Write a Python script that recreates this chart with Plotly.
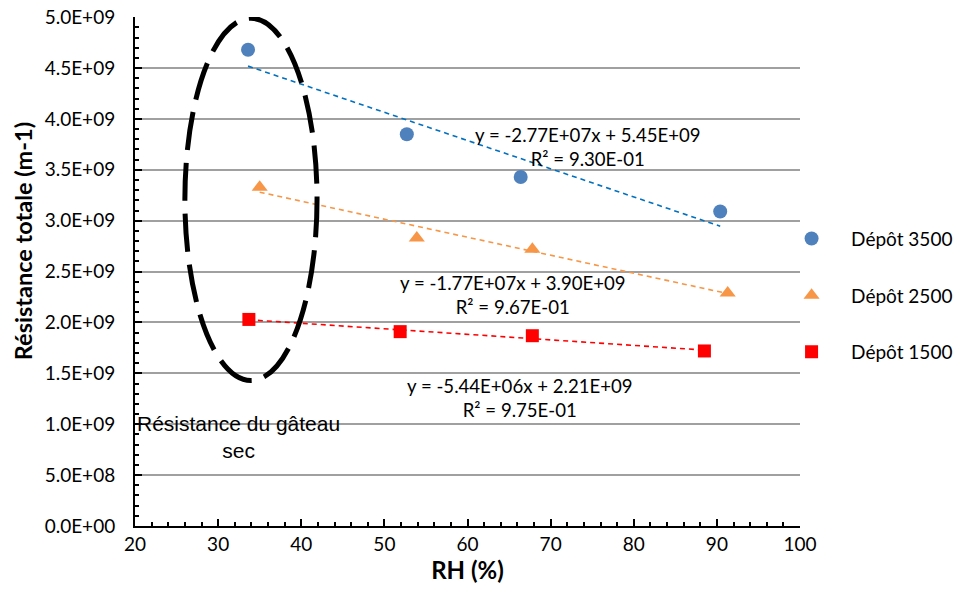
import plotly.graph_objects as go

rh_3500 = [33.6, 52.7, 66.4, 90.4]
res_3500 = [4.68e9, 3.85e9, 3.43e9, 3.09e9]
rh_2500 = [35.0, 53.9, 67.8, 91.3]
res_2500 = [3.33e9, 2.83e9, 2.72e9, 2.29e9]
rh_1500 = [33.7, 51.9, 67.8, 88.5]
res_1500 = [2.03e9, 1.91e9, 1.87e9, 1.72e9]

# trendline coefficients (as printed on the chart)
slopes = [-2.77e7, -1.77e7, -5.44e6]
intercepts = [5.45e9, 3.90e9, 2.21e9]
eq_labels = ["y = -2.77E+07x + 5.45E+09<br>R² = 9.30E-01",
             "y = -1.77E+07x + 3.90E+09<br>R² = 9.67E-01",
             "y = -5.44E+06x + 2.21E+09<br>R² = 9.75E-01"]
names = ["Dépôt 3500", "Dépôt 2500", "Dépôt 1500"]

y_tickvals = [0, 5e8, 1e9, 1.5e9, 2e9, 2.5e9, 3e9, 3.5e9, 4e9, 4.5e9, 5e9]
y_ticktext = ["0.0E+00", "5.0E+08", "1.0E+09", "1.5E+09", "2.0E+09", "2.5E+09",
              "3.0E+09", "3.5E+09", "4.0E+09", "4.5E+09", "5.0E+09"]

xs = [rh_3500, rh_2500, rh_1500]
ys = [res_3500, res_2500, res_1500]
marker_colors = ["#4F81BD", "#F79646", "#FF0000"]
line_colors = ["#0070C0", "#F79646", "#FF0000"]
symbols = ["circle", "triangle-up", "square"]

FONT = "Lato"
fig = go.Figure()
for i in range(3):
    x0, x1 = min(xs[i]), max(xs[i])
    fig.add_trace(go.Scatter(
        x=[x0, x1], y=[slopes[i] * x0 + intercepts[i], slopes[i] * x1 + intercepts[i]],
        mode="lines", line=dict(color=line_colors[i], width=1.6, dash="5px,4px"),
        showlegend=False, hoverinfo="skip"))
for i in range(3):
    fig.add_trace(go.Scatter(
        x=xs[i], y=ys[i], mode="markers", name=names[i], legendgroup=names[i],
        marker=dict(color=marker_colors[i], symbol=symbols[i], size=14 if i != 2 else 13)))

# dashed ellipse
fig.add_shape(type="circle", xref="x", yref="y", x0=26.0, x1=41.9, y0=1.43e9, y1=4.99e9,
              line=dict(color="black", width=5, dash="38px,13px"))

eq_pos = [(74.5, 3.72e9), (65.5, 2.27e9), (66.3, 1.26e9)]
for (ax, ay), txt in zip(eq_pos, eq_labels):
    fig.add_annotation(x=ax, y=ay, text=txt, showarrow=False, xref="x", yref="y",
                       font=dict(family=FONT, size=18.6, color="black"), align="center")

fig.add_annotation(x=32.4, y=0.874e9, xref="x", yref="y", showarrow=False,
                   text="Résistance du gâteau<br>sec", align="center",
                   font=dict(family="Liberation Sans", size=21, color="black"))

# y-axis title (placed as in the reference, slightly above centre)
fig.add_annotation(x=-0.168, y=0.56, xref="paper", yref="paper", showarrow=False,
                   xanchor="center", yanchor="middle",
                   text="<b>Résistance totale (m-1)</b>", textangle=-90,
                   font=dict(family=FONT, size=23.5, color="black"))

fig.update_xaxes(range=[20, 100], dtick=10, tick0=20, showgrid=False,
                 showline=True, linecolor="black", linewidth=2,
                 ticks="inside", ticklen=7, tickcolor="black", tickwidth=2,
                 minor=dict(dtick=2, ticks="inside", ticklen=4, tickcolor="black", tickwidth=1.5),
                 title=dict(text="<b>RH (%)</b>", font=dict(family=FONT, size=24, color="black"), standoff=5),
                 tickfont=dict(family=FONT, size=19, color="black"), zeroline=False)
fig.update_yaxes(range=[0, 5.002e9], tickvals=y_tickvals, ticktext=y_ticktext,
                 showgrid=True, gridcolor="#A0A0A0", gridwidth=2,
                 showline=True, linecolor="black", linewidth=2,
                 ticks="inside", ticklen=7, tickcolor="black", tickwidth=2, ticklabelstandoff=14,
                 ticklabeloverflow="allow",
                 minor=dict(dtick=1e8, ticks="inside", ticklen=4, tickcolor="black", tickwidth=1.5, showgrid=False),
                 tickfont=dict(family=FONT, size=19, color="black"), zeroline=False)

fig.update_layout(
    width=959, height=590, plot_bgcolor="white", paper_bgcolor="white",
    margin=dict(l=135, r=159, t=17, b=64, autoexpand=False),
    legend=dict(x=0.958, y=0.602, xanchor="left", yanchor="top", tracegroupgap=29,
                itemwidth=69,
                font=dict(family=FONT, size=19, color="black"), bgcolor="rgba(0,0,0,0)"),
)
fig.write_html("out.html", config={"displayModeBar": False},
               post_script="document.body.style.margin='0';")
